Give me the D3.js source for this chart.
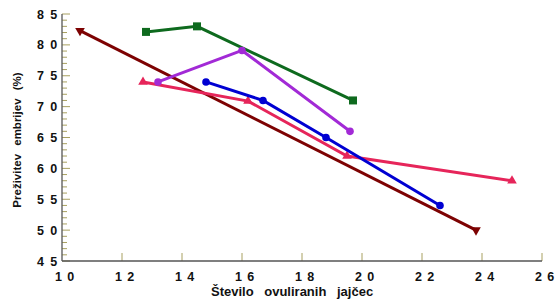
<!DOCTYPE html>
<html>
<head>
<meta charset="utf-8">
<script src="https://cdn.jsdelivr.net/npm/d3@7"></script>
<style>
  body { margin: 0; background: #fff; }
  svg text { font-family: "Liberation Sans", Arial, sans-serif; font-weight: bold; fill: #111; }
</style>
</head>
<body>
<svg id="chart" width="558" height="303"></svg>
<script>
const xTicks = [10, 12, 14, 16, 18, 20, 22, 24, 26];
const yTicks = [45, 50, 55, 60, 65, 70, 75, 80, 85];

const seriesMaroon = [[10.6, 82.3], [23.8, 50.0]];
const seriesGreen = [[12.8, 82.1], [14.5, 83.0], [19.7, 71.0]];
const seriesPurple = [[13.2, 74.0], [16.0, 79.1], [19.6, 66.0]];
const seriesBlue = [[14.8, 74.0], [16.7, 71.0], [18.8, 65.0], [22.6, 54.0]];
const seriesPink = [[12.7, 74.0], [16.2, 70.9], [19.5, 62.0], [25.0, 58.0]];

const series = [
    { data: seriesMaroon, color: '#7d0202', marker: 'tdown' },
    { data: seriesPink, color: '#e6255a', marker: 'tup' },
    { data: seriesGreen, color: '#0e6a1e', marker: 'square' },
    { data: seriesPurple, color: '#a22ad6', marker: 'circle' },
    { data: seriesBlue, color: '#0000d2', marker: 'circle' }
];

const svg = d3.select('#chart');
const margin = { top: 14, right: 16, bottom: 42, left: 62 };
const width = 558 - margin.left - margin.right;
const height = 303 - margin.top - margin.bottom;
const g = svg.append('g').attr('transform', `translate(${margin.left},${margin.top})`);

const x = d3.scaleLinear().domain([10, 26]).range([0, width]);
const y = d3.scaleLinear().domain([45, 85]).range([height, 0]);

const tickColor = '#a8a060';

// spaced-out two digit labels, second digit shifted by gap
function spaced(sel, gap) {
    sel.append('tspan').text(d => String(d)[0]);
    sel.append('tspan').attr('dx', gap).text(d => String(d).slice(1));
}

// y minor ticks
g.selectAll('.ymin')
    .data(d3.range(45, 86, 1).filter(v => v % 5 !== 0))
    .enter().append('line')
    .attr('x1', 0).attr('x2', 5)
    .attr('y1', d => y(d)).attr('y2', d => y(d))
    .attr('stroke', tickColor).attr('stroke-width', 1);

// y major ticks
g.selectAll('.ymaj')
    .data(yTicks)
    .enter().append('line')
    .attr('x1', 0).attr('x2', 8)
    .attr('y1', d => y(d)).attr('y2', d => y(d))
    .attr('stroke', tickColor).attr('stroke-width', 1);

g.selectAll('.ylab')
    .data(yTicks)
    .enter().append('text')
    .attr('x', -25).attr('y', d => y(d) + 4.5)
    .attr('font-size', 12.5)
    .call(spaced, 6.3);

// x major ticks
g.selectAll('.xmaj')
    .data(xTicks.slice(1))
    .enter().append('line')
    .attr('x1', d => x(d)).attr('x2', d => x(d))
    .attr('y1', height).attr('y2', height - 8)
    .attr('stroke', tickColor).attr('stroke-width', 1);

g.selectAll('.xlab')
    .data(xTicks)
    .enter().append('text')
    .attr('x', d => x(d) - 7).attr('y', height + 20)
    .attr('font-size', 12.5)
    .call(spaced, 5.3);

// axis lines
g.append('line').attr('x1', 0).attr('x2', 0).attr('y1', 0).attr('y2', height)
    .attr('stroke', '#555').attr('stroke-width', 1.3);
g.append('line').attr('x1', 0).attr('x2', width).attr('y1', height).attr('y2', height)
    .attr('stroke', '#555').attr('stroke-width', 1.3);

// labels
svg.append('text')
    .attr('x', 211).attr('y', 296)
    .attr('font-size', 13)
    .attr('word-spacing', 7)
    .text('Število ovuliranih jajčec');

svg.append('text')
    .attr('transform', 'translate(21,140) rotate(-90)')
    .attr('text-anchor', 'middle')
    .attr('font-size', 11.5)
    .attr('word-spacing', 5)
    .text('Preživitev embrijev (%)');

const line = d3.line().x(d => x(d[0])).y(d => y(d[1]));

series.forEach(s => {
    g.append('path')
        .datum(s.data)
        .attr('fill', 'none')
        .attr('stroke', s.color)
        .attr('stroke-width', 3)
        .attr('d', line);

    const m = g.selectAll(null).data(s.data).enter();
    if (s.marker === 'circle') {
        m.append('circle')
            .attr('cx', d => x(d[0])).attr('cy', d => y(d[1]))
            .attr('r', 3.8).attr('fill', s.color);
    } else if (s.marker === 'square') {
        m.append('rect')
            .attr('x', d => x(d[0]) - 4).attr('y', d => y(d[1]) - 4)
            .attr('width', 8).attr('height', 8).attr('fill', s.color);
    } else {
        const sym = d3.symbol().type(d3.symbolTriangle).size(40);
        m.append('path')
            .attr('d', sym)
            .attr('transform', d => `translate(${x(d[0])},${y(d[1])}) rotate(${s.marker === 'tdown' ? 180 : 0})`)
            .attr('fill', s.color);
    }
});
</script>
</body>
</html>
